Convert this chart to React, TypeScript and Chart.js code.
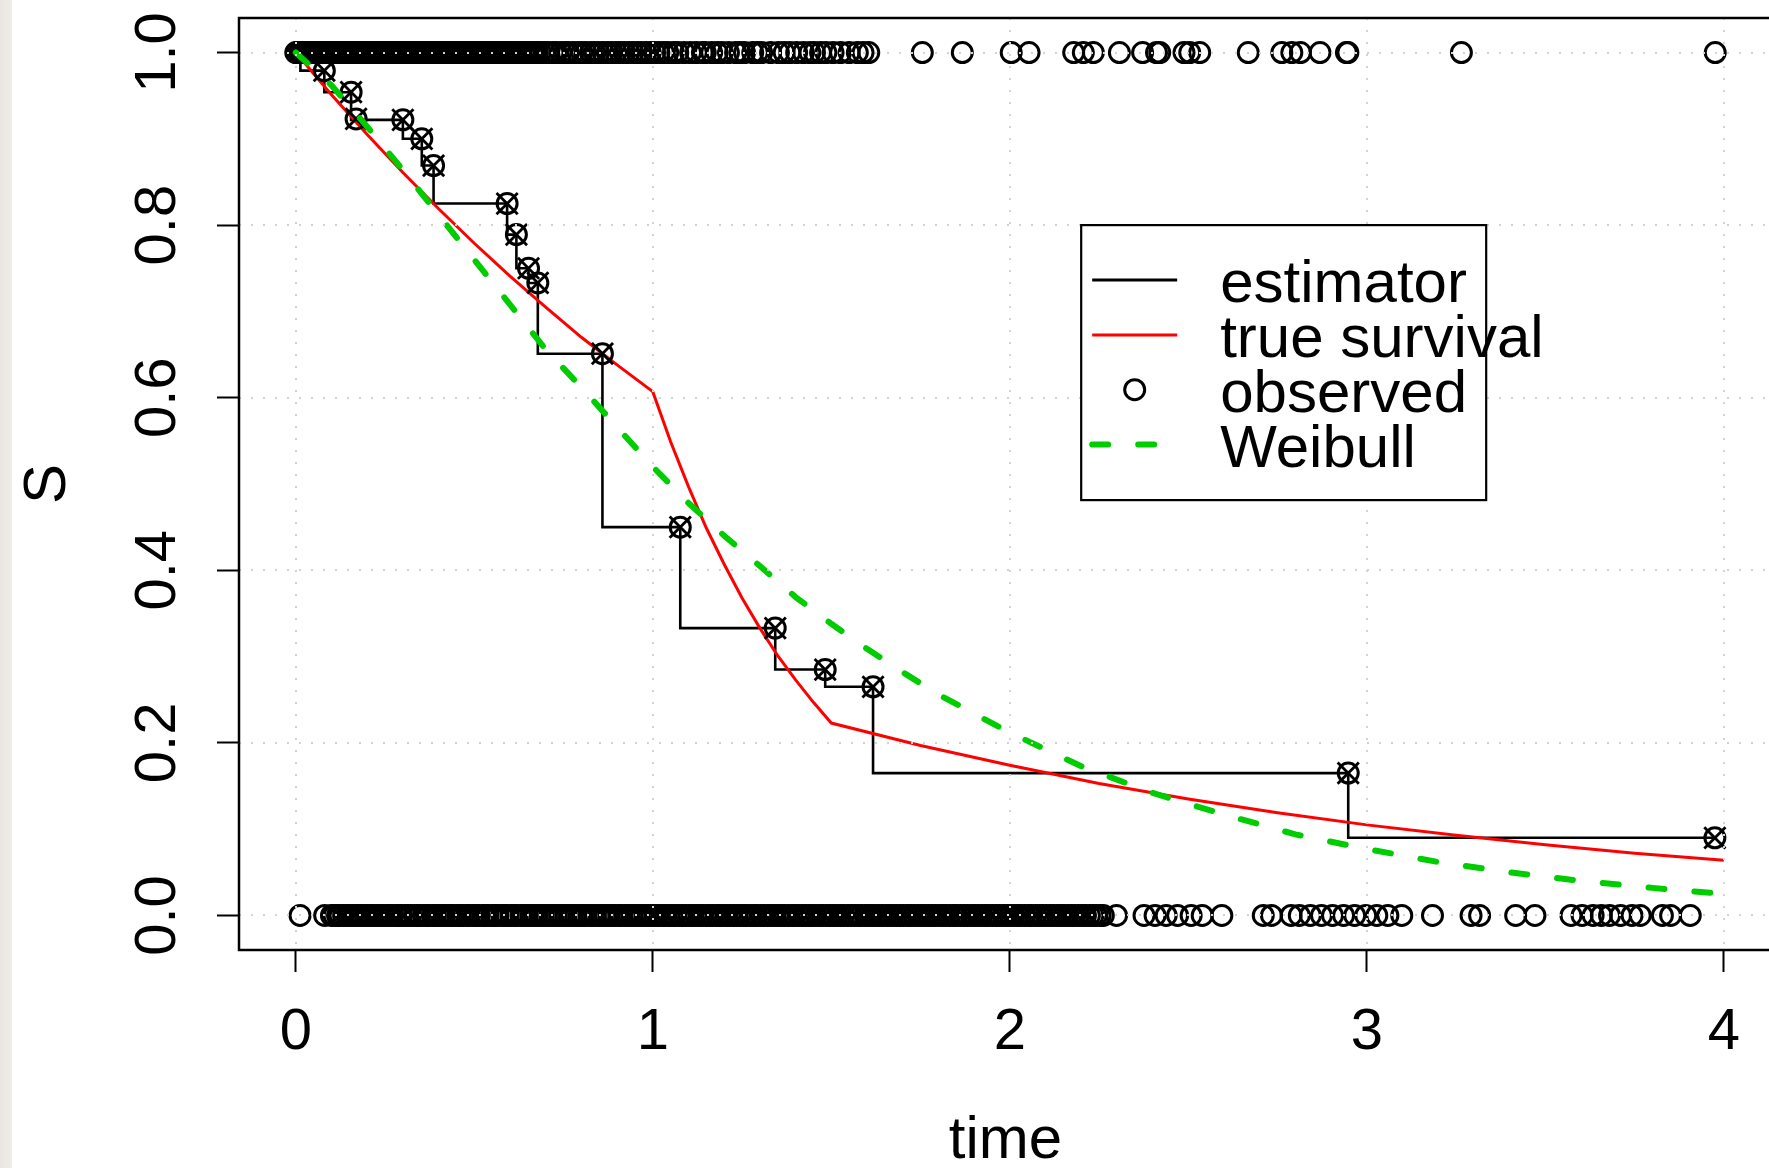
import React, { useEffect, useRef } from 'react';
import { Chart, registerables } from 'chart.js';

Chart.register(...registerables);

// ---------- data ----------
const xTickValues = [0, 1, 2, 3, 4];
const xTickLabels = ['0', '1', '2', '3', '4'];
const yTickValues = [0, 0.2, 0.4, 0.6, 0.8, 1.0];
const yTickLabels = ['0.0', '0.2', '0.4', '0.6', '0.8', '1.0'];
const xTitle = 'time';
const yTitle = 'S';
const legendLabels = ['estimator', 'true survival', 'observed', 'Weibull'];
const legendAnchor = [2.2, 0.8];

// estimator (level after each drop)
const stepTimes = [0, 0.013, 0.080, 0.155, 0.300, 0.353, 0.386, 0.592, 0.618, 0.652, 0.678, 0.859, 1.077, 1.343, 1.483, 1.617, 2.948, 3.975];
const stepLevels = [1.0, 0.979, 0.954, 0.922, 0.900, 0.869, 0.825, 0.789, 0.750, 0.733, 0.651, 0.450, 0.333, 0.285, 0.265, 0.165, 0.090, 0.090];

// event markers on the estimator
const markerTimes = [0.080, 0.155, 0.169, 0.300, 0.353, 0.386, 0.592, 0.618, 0.652, 0.678, 0.859, 1.077, 1.343, 1.483, 1.617, 2.948, 3.975];
const markerLevels = [0.979, 0.954, 0.923, 0.922, 0.900, 0.869, 0.825, 0.789, 0.750, 0.733, 0.651, 0.450, 0.333, 0.285, 0.265, 0.165, 0.090];

// true survival curve
const trueTimes = [0, 0.1, 0.2, 0.3, 0.4, 0.5, 0.6, 0.7, 0.8, 0.9, 1.0, 1.05, 1.1, 1.15, 1.2, 1.25, 1.3, 1.35, 1.4, 1.45, 1.5, 1.75, 2.0, 2.25, 2.5, 2.75, 3.0, 3.25, 3.5, 3.75, 4.0];
const trueS = [1.0, 0.951, 0.905, 0.861, 0.819, 0.779, 0.741, 0.705, 0.670, 0.638, 0.607, 0.549, 0.497, 0.449, 0.407, 0.368, 0.333, 0.301, 0.273, 0.247, 0.223, 0.197, 0.174, 0.153, 0.135, 0.119, 0.105, 0.093, 0.082, 0.072, 0.064];

// fitted Weibull curve
const weibullTimes = [0, 0.1, 0.2, 0.3, 0.4, 0.5, 0.6, 0.7, 0.8, 0.9, 1.0, 1.1, 1.2, 1.3, 1.4, 1.5, 1.6, 1.7, 1.8, 1.9, 2.0, 2.2, 2.4, 2.6, 2.8, 3.0, 3.2, 3.4, 3.6, 3.8, 4.0];
const weibullS = [1.0, 0.962, 0.914, 0.864, 0.812, 0.760, 0.708, 0.656, 0.612, 0.566, 0.520, 0.478, 0.440, 0.405, 0.369, 0.338, 0.309, 0.282, 0.256, 0.234, 0.212, 0.173, 0.142, 0.117, 0.094, 0.077, 0.062, 0.050, 0.040, 0.032, 0.025];

// observed times plotted at S = 1
const topRowTimes = [
  0.000, 0.004, 0.009, 0.015, 0.020, 0.026, 0.031, 0.035, 0.041, 0.047, 0.052, 0.058, 0.062, 0.068, 0.074, 0.079,
  0.085, 0.091, 0.096, 0.101, 0.107, 0.112, 0.118, 0.124, 0.129, 0.135, 0.141, 0.146, 0.151, 0.158, 0.163, 0.169,
  0.175, 0.180, 0.186, 0.192, 0.199, 0.204, 0.209, 0.215, 0.221, 0.228, 0.233, 0.239, 0.244, 0.250, 0.257, 0.262,
  0.268, 0.273, 0.280, 0.286, 0.291, 0.298, 0.304, 0.309, 0.316, 0.322, 0.328, 0.335, 0.341, 0.346, 0.353, 0.359,
  0.366, 0.372, 0.377, 0.384, 0.391, 0.397, 0.402, 0.410, 0.416, 0.422, 0.429, 0.436, 0.441, 0.449, 0.455, 0.461,
  0.469, 0.475, 0.481, 0.489, 0.496, 0.501, 0.509, 0.516, 0.522, 0.530, 0.537, 0.543, 0.551, 0.558, 0.564, 0.572,
  0.580, 0.586, 0.594, 0.601, 0.608, 0.616, 0.624, 0.630, 0.639, 0.646, 0.653, 0.662, 0.670, 0.677, 0.686,
  0.697, 0.708, 0.721, 0.730, 0.743, 0.755, 0.764, 0.777, 0.790, 0.801, 0.812, 0.826, 0.837, 0.848, 0.861, 0.873,
  0.884, 0.897, 0.909, 0.921, 0.933, 0.944, 0.957, 0.968, 0.981, 0.993, 1.005, 1.017, 1.030, 1.042,
  1.058, 1.070, 1.088, 1.106, 1.122, 1.139, 1.147, 1.165, 1.180, 1.194, 1.212, 1.232, 1.244, 1.257, 1.280, 1.293,
  1.305, 1.330, 1.352, 1.368, 1.384, 1.403, 1.422, 1.440, 1.453, 1.470, 1.485, 1.505, 1.526, 1.550, 1.573, 1.589,
  1.605,
  1.755, 1.867, 2.004, 2.054, 2.179, 2.206, 2.234, 2.307, 2.372, 2.411, 2.420, 2.488, 2.504, 2.532, 2.668, 2.762,
  2.790, 2.814, 2.869, 2.943, 2.947, 3.265, 3.976,
];

// observed times plotted at S = 0
const bottomRowTimes = [
  0.012, 0.081,
  0.100, 0.107, 0.117, 0.124, 0.134, 0.143, 0.150, 0.159, 0.169, 0.176, 0.185, 0.195, 0.202, 0.210, 0.219, 0.229,
  0.236, 0.245, 0.255, 0.262, 0.270, 0.281, 0.288, 0.296, 0.306, 0.314, 0.322, 0.332, 0.340, 0.347, 0.358, 0.366,
  0.373, 0.384, 0.391, 0.400, 0.410, 0.417, 0.427, 0.435, 0.443, 0.454, 0.461, 0.469, 0.480, 0.487, 0.497, 0.505,
  0.513, 0.524, 0.531, 0.539, 0.550, 0.558, 0.566, 0.577, 0.585, 0.593, 0.604, 0.612, 0.620, 0.631, 0.639, 0.648,
  0.658, 0.666, 0.675, 0.685, 0.693, 0.702, 0.712, 0.720, 0.730, 0.739, 0.747, 0.757, 0.767, 0.775, 0.784, 0.794,
  0.803, 0.811, 0.822, 0.830, 0.839, 0.850, 0.858, 0.867, 0.877, 0.886, 0.894, 0.905, 0.913, 0.923, 0.932, 0.941,
  0.951, 0.960, 0.969, 0.979, 0.988, 0.998, 1.007, 1.016, 1.027, 1.035, 1.045, 1.055, 1.063, 1.074, 1.083, 1.092,
  1.102, 1.111, 1.121, 1.131, 1.139, 1.150, 1.159, 1.168, 1.179, 1.187, 1.197, 1.207, 1.216, 1.226, 1.235, 1.245,
  1.255, 1.263, 1.274, 1.284, 1.292, 1.303, 1.312, 1.322, 1.332, 1.341, 1.351, 1.361, 1.369, 1.380, 1.390, 1.398,
  1.409, 1.419, 1.428, 1.438, 1.447, 1.457, 1.468, 1.476, 1.487, 1.497, 1.506, 1.516, 1.526, 1.535, 1.546, 1.555,
  1.565, 1.575, 1.584, 1.595, 1.604, 1.614, 1.624, 1.634, 1.643, 1.654, 1.663, 1.673, 1.683, 1.693, 1.702, 1.713,
  1.722, 1.732, 1.743, 1.752, 1.762, 1.772, 1.782, 1.791, 1.802, 1.812, 1.821, 1.832, 1.842, 1.851, 1.862, 1.872,
  1.881, 1.892, 1.902, 1.911, 1.922, 1.932, 1.941, 1.952, 1.962, 1.971, 1.982, 1.992, 2.001, 2.012, 2.022, 2.031,
  2.042, 2.052, 2.061, 2.072, 2.082, 2.091, 2.102, 2.113, 2.122, 2.133, 2.143, 2.152, 2.163, 2.173, 2.182, 2.193,
  2.203, 2.212, 2.223, 2.233, 2.242, 2.253, 2.262,
  2.299, 2.376, 2.407, 2.438, 2.470, 2.508, 2.539, 2.594, 2.710, 2.733, 2.788, 2.811, 2.842, 2.873, 2.904, 2.935,
  2.966, 2.997, 3.028, 3.059, 3.098, 3.184, 3.292, 3.316, 3.417, 3.471, 3.572, 3.603, 3.634, 3.657, 3.680, 3.711,
  3.743, 3.766, 3.828, 3.851, 3.906,
];

// ---------- styling ----------
const FONT = '"Liberation Sans", Arial, Helvetica, sans-serif';
const RED = '#ff0000';
const GREEN = '#00cd00';
const GREEN_DASH = [16, 30];
const GRID_COLOR = '#d3d3d3';

const rPlugin = {
  id: 'rStyle',
  afterDatasetsDraw(chart: any) {
    const { ctx, chartArea: a, scales } = chart;
    const xs = scales.x;
    const ys = scales.y;
    ctx.save();
    ctx.strokeStyle = GRID_COLOR;
    ctx.lineWidth = 2;
    ctx.setLineDash([2, 10]);
    xTickValues.forEach((v) => {
      const px = Math.round(xs.getPixelForValue(v));
      ctx.beginPath();
      ctx.moveTo(px, a.top);
      ctx.lineTo(px, a.bottom);
      ctx.stroke();
    });
    yTickValues.forEach((v) => {
      const py = Math.round(ys.getPixelForValue(v));
      ctx.beginPath();
      ctx.moveTo(a.left, py);
      ctx.lineTo(a.right, py);
      ctx.stroke();
    });
    ctx.restore();
  },
  afterDraw(chart: any) {
    const { ctx, chartArea: a, scales } = chart;
    const xs = scales.x;
    const ys = scales.y;
    ctx.save();
    // box
    ctx.strokeStyle = '#000';
    ctx.lineWidth = 2.5;
    ctx.setLineDash([]);
    ctx.strokeRect(a.left, a.top, a.right - a.left, a.bottom - a.top);

    // tick labels
    ctx.fillStyle = '#000';
    ctx.font = `58px ${FONT}`;
    ctx.textAlign = 'center';
    ctx.textBaseline = 'alphabetic';
    yTickValues.forEach((v, i) => {
      ctx.save();
      ctx.translate(a.left - 64, ys.getPixelForValue(v));
      ctx.rotate(-Math.PI / 2);
      ctx.fillText(yTickLabels[i], 0, 0);
      ctx.restore();
    });
    xTickValues.forEach((v, i) => {
      ctx.fillText(xTickLabels[i], xs.getPixelForValue(v), a.bottom + 99);
    });

    // axis titles
    ctx.font = `60px ${FONT}`;
    ctx.fillText(xTitle, (a.left + a.right) / 2, a.bottom + 208);
    ctx.save();
    ctx.translate(a.left - 174, (a.top + a.bottom) / 2);
    ctx.rotate(-Math.PI / 2);
    ctx.fillText(yTitle, 0, 0);
    ctx.restore();

    // legend
    const lx = xs.getPixelForValue(legendAnchor[0]);
    const ly = ys.getPixelForValue(legendAnchor[1]);
    const lw = 405;
    const lh = 275;
    ctx.fillStyle = '#fff';
    ctx.fillRect(lx, ly, lw, lh);
    ctx.strokeStyle = '#000';
    ctx.lineWidth = 2.2;
    ctx.strokeRect(lx, ly, lw, lh);
    const rowStep = 54.8;
    legendLabels.forEach((label, i) => {
      const cy = ly + 55 + rowStep * i;
      const x1 = lx + 11;
      const x2 = lx + 96;
      ctx.save();
      if (i === 0 || i === 1) {
        ctx.strokeStyle = i === 0 ? '#000' : RED;
        ctx.lineWidth = 3;
        ctx.beginPath();
        ctx.moveTo(x1, cy);
        ctx.lineTo(x2, cy);
        ctx.stroke();
      } else if (i === 2) {
        ctx.strokeStyle = '#000';
        ctx.lineWidth = 3;
        ctx.beginPath();
        ctx.arc((x1 + x2) / 2, cy, 10, 0, Math.PI * 2);
        ctx.stroke();
      } else {
        ctx.strokeStyle = GREEN;
        ctx.lineWidth = 6;
        ctx.lineCap = 'round';
        ctx.setLineDash(GREEN_DASH);
        ctx.beginPath();
        ctx.moveTo(x1, cy);
        ctx.lineTo(x2, cy);
        ctx.stroke();
      }
      ctx.restore();
      ctx.fillStyle = '#000';
      ctx.font = `60px ${FONT}`;
      ctx.textAlign = 'left';
      ctx.textBaseline = 'alphabetic';
      ctx.fillText(label, lx + 139, cy + 22);
    });
    ctx.restore();
  },
};

export default function App() {
  const canvasRef = useRef<HTMLCanvasElement | null>(null);

  useEffect(() => {
    const canvas = canvasRef.current;
    if (!canvas) return;

    const stepData = stepTimes.map((t, i) => ({ x: t, y: stepLevels[i] }));
    const markerData = markerTimes.map((t, i) => ({ x: t, y: markerLevels[i] }));
    const trueData = trueTimes.map((t, i) => ({ x: t, y: trueS[i] }));
    const weibullData = weibullTimes.map((t, i) => ({ x: t, y: weibullS[i] }));
    const observedData = [
      ...topRowTimes.map((t) => ({ x: t, y: 1 })),
      ...bottomRowTimes.map((t) => ({ x: t, y: 0 })),
    ];

    const chart = new Chart(canvas, {
      type: 'scatter',
      data: {
        datasets: [
          {
            label: 'Weibull',
            data: weibullData,
            showLine: true,
            borderColor: GREEN,
            borderWidth: 6,
            borderDash: GREEN_DASH,
            borderCapStyle: 'round',
            pointRadius: 0,
            tension: 0,
            order: 0,
          },
          {
            label: 'observed',
            data: observedData,
            showLine: false,
            pointStyle: 'circle',
            pointRadius: 10,
            pointBorderWidth: 3,
            pointBorderColor: '#000',
            pointBackgroundColor: 'rgba(0,0,0,0)',
            order: 1,
          },
          {
            label: 'events',
            data: markerData,
            showLine: false,
            pointStyle: 'circle',
            pointRadius: 10,
            pointBorderWidth: 3,
            pointBorderColor: '#000',
            pointBackgroundColor: 'rgba(0,0,0,0)',
            order: 1,
          },
          {
            label: 'events-x',
            data: markerData,
            showLine: false,
            pointStyle: 'crossRot',
            pointRadius: 15,
            pointBorderWidth: 2.8,
            pointBorderColor: '#000',
            order: 1,
          },
          {
            label: 'true survival',
            data: trueData,
            showLine: true,
            borderColor: RED,
            borderWidth: 3,
            pointRadius: 0,
            tension: 0,
            order: 2,
          },
          {
            label: 'estimator',
            data: stepData,
            showLine: true,
            stepped: 'before',
            borderColor: '#000',
            borderWidth: 2.6,
            pointRadius: 0,
            order: 3,
          },
        ],
      },
      options: {
        responsive: false,
        animation: false,
        events: [],
        layout: { padding: { top: 18, right: 18, left: 0, bottom: 0 } },
        plugins: {
          legend: { display: false },
          tooltip: { enabled: false },
          title: { display: false },
        },
        scales: {
          x: {
            type: 'linear',
            min: -0.159,
            max: 4.135,
            afterBuildTicks: (scale: any) => {
              scale.ticks = xTickValues.map((v) => ({ value: v }));
            },
            afterFit: (scale: any) => {
              scale.height = 218;
            },
            ticks: { display: false },
            border: { display: false },
            grid: {
              drawOnChartArea: false,
              drawTicks: true,
              tickLength: 22,
              tickColor: '#000',
              tickWidth: 2,
            },
          },
          y: {
            type: 'linear',
            min: -0.04,
            max: 1.04,
            afterBuildTicks: (scale: any) => {
              scale.ticks = yTickValues.map((v) => ({ value: v }));
            },
            afterFit: (scale: any) => {
              scale.width = 239;
            },
            ticks: { display: false },
            border: { display: false },
            grid: {
              drawOnChartArea: false,
              drawTicks: true,
              tickLength: 22,
              tickColor: '#000',
              tickWidth: 2,
            },
          },
        },
      },
      plugins: [rPlugin],
    } as any);

    return () => {
      chart.destroy();
    };
  }, []);

  return (
    <div
      style={{
        position: 'fixed',
        left: 0,
        top: 0,
        width: 1769,
        height: 1168,
        overflow: 'hidden',
        background: '#ffffff',
      }}
    >
      <div
        style={{
          position: 'absolute',
          left: 0,
          top: 0,
          width: 12,
          height: 1168,
          background: 'linear-gradient(90deg, #e9e6e1, #efede9)',
        }}
      />
      <canvas
        ref={canvasRef}
        width={1790}
        height={1168}
        style={{ position: 'absolute', left: 0, top: 0, display: 'block' }}
      />
    </div>
  );
}
